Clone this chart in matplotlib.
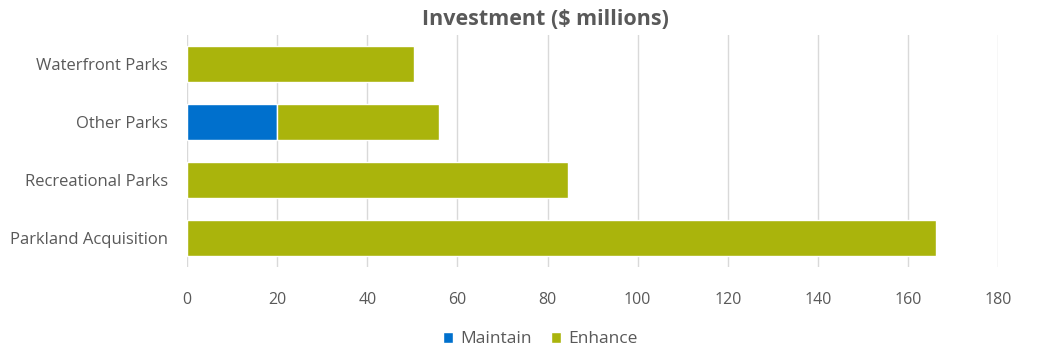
import matplotlib
matplotlib.use("Agg")
import matplotlib.pyplot as plt
import numpy as np

categories = ["Waterfront Parks", "Other Parks", "Recreational Parks", "Parkland Acquisition"]
maintain = [0, 20, 0, 0]
enhance = [50.3, 35.9, 84.5, 166.2]
xticks = [0, 20, 40, 60, 80, 100, 120, 140, 160, 180]

plt.rcParams['font.family'] = ['Open Sans', 'DejaVu Sans']
gray = "#595959"

fig = plt.figure(figsize=(10.63, 3.54), dpi=100)
ax = fig.add_axes([0.176, 0.246, 0.763, 0.655])

y = np.arange(len(categories))
ax.barh(y, maintain, height=0.63, color="#0070cd", edgecolor="white", linewidth=1, label="Maintain", zorder=3)
ax.barh(y, enhance, left=maintain, height=0.63, color="#aab40c", edgecolor="white", linewidth=1, label="Enhance", zorder=3)

ax.set_xlim(0, 180)
ax.set_ylim(len(categories) - 0.5, -0.5)
ax.set_yticks(y)
ax.set_yticklabels(categories, color=gray, fontsize=12)
ax.set_xticks(xticks)
ax.set_xticklabels([str(t) for t in xticks], color=gray, fontsize=11.5)
ax.tick_params(axis='both', length=0)
ax.tick_params(axis='x', pad=18)
ax.tick_params(axis='y', pad=14)
ax.xaxis.grid(True, color="#d9d9d9", linewidth=1, zorder=0)
for s in ax.spines.values():
    s.set_visible(False)

fig.text(0.513, 0.945, "Investment ($ millions)", ha="center", va="center", fontsize=15.5, fontweight="bold", color=gray)

fig.legend(loc="center", bbox_to_anchor=(0.508, 0.042), ncol=2, frameon=False, fontsize=12.5,
           handlelength=0.6, handleheight=0.6, handletextpad=0.4, columnspacing=1.1, labelcolor=gray)

fig.savefig("out.png", dpi=100)
